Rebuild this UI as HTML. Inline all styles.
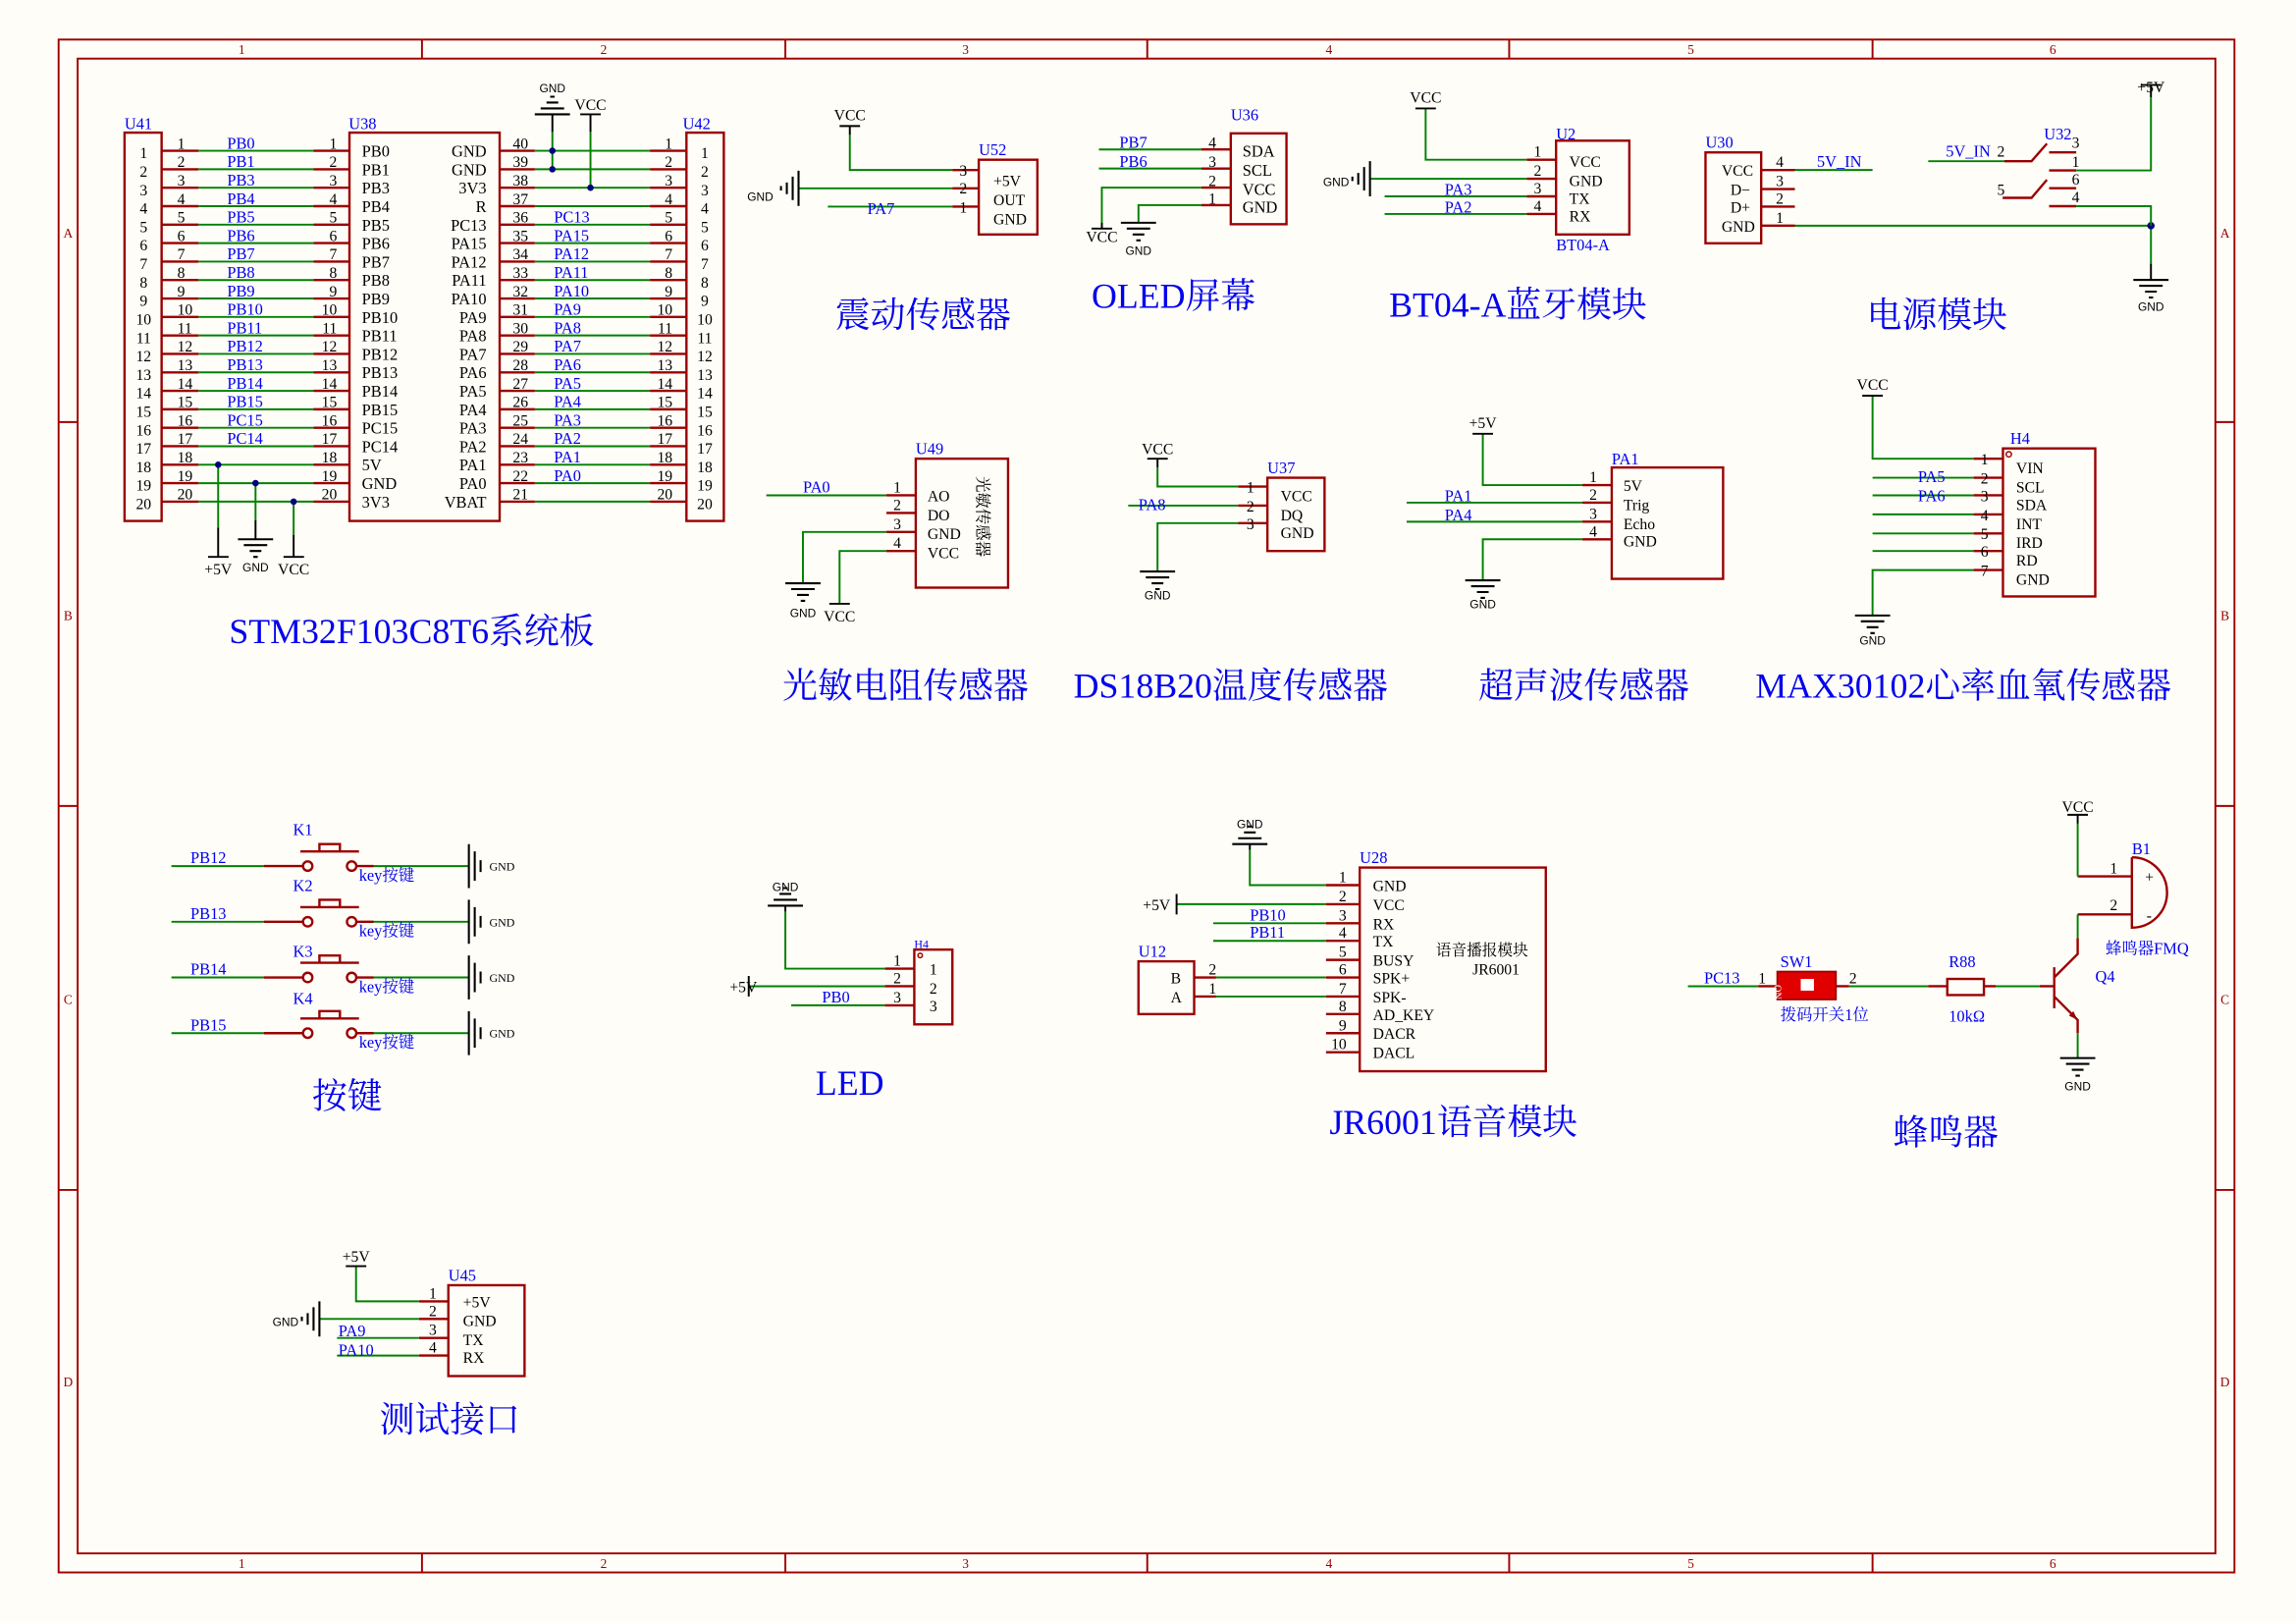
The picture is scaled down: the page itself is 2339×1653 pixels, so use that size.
<!DOCTYPE html>
<html><head><meta charset="utf-8"><style>
html,body{margin:0;padding:0;background:#fefdf8;}
svg{display:block;}
text{font-family:"Liberation Serif","Noto Serif CJK SC",serif;}
.r{stroke:#9a0000;stroke-width:1.6;fill:none;}
.g{stroke:#008000;stroke-width:1.3;fill:none;}
.k{stroke:#000;stroke-width:1.3;fill:none;}
.b{fill:#0000ee;font-size:11px;}
.n{fill:#000;font-size:10.5px;}
.s{fill:#000;font-size:11px;font-family:"Liberation Sans",sans-serif;}
.fr{fill:#9a0000;font-size:9px;font-family:"Liberation Sans",sans-serif;}
.T{fill:#0000ee;font-size:24px;text-anchor:middle;font-family:"Liberation Serif","Noto Serif CJK SC",serif;}
.sm{fill:#000;font-size:8px;font-family:"Liberation Sans",sans-serif;}
.e{text-anchor:end;}.m{text-anchor:middle;}
</style></head><body>
<svg width="2339" height="1653" viewBox="0 0 1567 1107.5" preserveAspectRatio="none" xmlns="http://www.w3.org/2000/svg">
<defs>
<g id="gd"><path d="M-12,0h24M-8,4h16M-4,8h8M-1.5,12h3" stroke="#000" stroke-width="1.4"/></g>
<g id="gu"><path d="M-12,0h24M-8,-4h16M-4,-8h8M-1.5,-12h3" stroke="#000" stroke-width="1.4"/></g>
<g id="gl"><path d="M0,-12v24M-4,-8v16M-8,-4v8M-12,-1.5v3" stroke="#000" stroke-width="1.4"/></g>
<g id="gr"><path d="M0,-15v30M4,-10v20M8,-4v8" stroke="#000" stroke-width="1.4"/></g>
</defs>
<rect x="0" y="0" width="1570" height="1110" fill="#fefdf8"/>
<!-- frame -->
<rect x="40" y="27" width="1485" height="1046" fill="none" stroke="#a00000" stroke-width="1.3"/>
<rect x="53" y="40" width="1459" height="1020" fill="none" stroke="#a00000" stroke-width="1.3"/>
<path d="M288,27v13M536,27v13M783,27v13M1030,27v13M1278,27v13M288,1060v13M536,1060v13M783,1060v13M1030,1060v13M1278,1060v13M40,288h13M40,550h13M40,812h13M1512,288h13M1512,550h13M1512,812h13" stroke="#a00000" stroke-width="1.3"/>
<g class="fr" text-anchor="middle">
<text x="165" y="37">1</text><text x="412" y="37">2</text><text x="659" y="37">3</text><text x="907" y="37">4</text><text x="1154" y="37">5</text><text x="1401" y="37">6</text>
<text x="165" y="1070">1</text><text x="412" y="1070">2</text><text x="659" y="1070">3</text><text x="907" y="1070">4</text><text x="1154" y="1070">5</text><text x="1401" y="1070">6</text>
<text x="46.5" y="162">A</text><text x="46.5" y="423">B</text><text x="46.5" y="685">C</text><text x="46.5" y="946">D</text>
<text x="1518.5" y="162">A</text><text x="1518.5" y="423">B</text><text x="1518.5" y="685">C</text><text x="1518.5" y="946">D</text>
</g>

<!-- ===== STM32 ===== -->
<rect x="85" y="90.5" width="25.3" height="265" class="r"/>
<rect x="238.5" y="90.5" width="102.5" height="265" class="r"/>
<rect x="468.5" y="90.5" width="25.5" height="265" class="r"/>
<text x="85" y="88" class="b">U41</text><text x="238" y="88" class="b">U38</text><text x="466" y="88" class="b">U42</text>
<g id="rows">
<path class="g" d="M135.5,102.9H214M135.5,115.5H214M135.5,128.1H214M135.5,140.7H214M135.5,153.3H214M135.5,165.9H214M135.5,178.5H214M135.5,191.1H214M135.5,203.7H214M135.5,216.3H214M135.5,228.9H214M135.5,241.5H214M135.5,254.1H214M135.5,266.7H214M135.5,279.3H214M135.5,291.9H214M135.5,304.5H214M135.5,317.1H214M135.5,329.7H214M135.5,342.3H214"/>
<path class="g" d="M365,102.9H443.6M365,115.5H443.6M365,128.1H443.6M365,140.7H443.6M365,153.3H443.6M365,165.9H443.6M365,178.5H443.6M365,191.1H443.6M365,203.7H443.6M365,216.3H443.6M365,228.9H443.6M365,241.5H443.6M365,254.1H443.6M365,266.7H443.6M365,279.3H443.6M365,291.9H443.6M365,304.5H443.6M365,317.1H443.6M365,329.7H443.6M365,342.3H443.6"/>
<path class="r" d="M110.3,102.9h25.2M214,102.9h24.5M341,102.9h24M443.6,102.9h24.9
M110.3,115.5h25.2M214,115.5h24.5M341,115.5h24M443.6,115.5h24.9
M110.3,128.1h25.2M214,128.1h24.5M341,128.1h24M443.6,128.1h24.9
M110.3,140.7h25.2M214,140.7h24.5M341,140.7h24M443.6,140.7h24.9
M110.3,153.3h25.2M214,153.3h24.5M341,153.3h24M443.6,153.3h24.9
M110.3,165.9h25.2M214,165.9h24.5M341,165.9h24M443.6,165.9h24.9
M110.3,178.5h25.2M214,178.5h24.5M341,178.5h24M443.6,178.5h24.9
M110.3,191.1h25.2M214,191.1h24.5M341,191.1h24M443.6,191.1h24.9
M110.3,203.7h25.2M214,203.7h24.5M341,203.7h24M443.6,203.7h24.9
M110.3,216.3h25.2M214,216.3h24.5M341,216.3h24M443.6,216.3h24.9
M110.3,228.9h25.2M214,228.9h24.5M341,228.9h24M443.6,228.9h24.9
M110.3,241.5h25.2M214,241.5h24.5M341,241.5h24M443.6,241.5h24.9
M110.3,254.1h25.2M214,254.1h24.5M341,254.1h24M443.6,254.1h24.9
M110.3,266.7h25.2M214,266.7h24.5M341,266.7h24M443.6,266.7h24.9
M110.3,279.3h25.2M214,279.3h24.5M341,279.3h24M443.6,279.3h24.9
M110.3,291.9h25.2M214,291.9h24.5M341,291.9h24M443.6,291.9h24.9
M110.3,304.5h25.2M214,304.5h24.5M341,304.5h24M443.6,304.5h24.9
M110.3,317.1h25.2M214,317.1h24.5M341,317.1h24M443.6,317.1h24.9
M110.3,329.7h25.2M214,329.7h24.5M341,329.7h24M443.6,329.7h24.9
M110.3,342.3h25.2M214,342.3h24.5M341,342.3h24M443.6,342.3h24.9"/>
</g>
<g class="n m">
<text x="98" y="108">1</text><text x="98" y="120.6">2</text><text x="98" y="133.2">3</text><text x="98" y="145.8">4</text><text x="98" y="158.4">5</text><text x="98" y="171">6</text><text x="98" y="183.6">7</text><text x="98" y="196.2">8</text><text x="98" y="208.8">9</text><text x="98" y="221.4">10</text><text x="98" y="234">11</text><text x="98" y="246.6">12</text><text x="98" y="259.2">13</text><text x="98" y="271.8">14</text><text x="98" y="284.4">15</text><text x="98" y="297">16</text><text x="98" y="309.6">17</text><text x="98" y="322.2">18</text><text x="98" y="334.8">19</text><text x="98" y="347.4">20</text>
<text x="481" y="108">1</text><text x="481" y="120.6">2</text><text x="481" y="133.2">3</text><text x="481" y="145.8">4</text><text x="481" y="158.4">5</text><text x="481" y="171">6</text><text x="481" y="183.6">7</text><text x="481" y="196.2">8</text><text x="481" y="208.8">9</text><text x="481" y="221.4">10</text><text x="481" y="234">11</text><text x="481" y="246.6">12</text><text x="481" y="259.2">13</text><text x="481" y="271.8">14</text><text x="481" y="284.4">15</text><text x="481" y="297">16</text><text x="481" y="309.6">17</text><text x="481" y="322.2">18</text><text x="481" y="334.8">19</text><text x="481" y="347.4">20</text>
</g>
<g class="n">
<text x="121" y="101.5">1</text><text x="121" y="114">2</text><text x="121" y="126.6">3</text><text x="121" y="139.2">4</text><text x="121" y="151.8">5</text><text x="121" y="164.4">6</text><text x="121" y="177">7</text><text x="121" y="189.6">8</text><text x="121" y="202.2">9</text><text x="121" y="214.8">10</text><text x="121" y="227.4">11</text><text x="121" y="240">12</text><text x="121" y="252.6">13</text><text x="121" y="265.2">14</text><text x="121" y="277.8">15</text><text x="121" y="290.4">16</text><text x="121" y="303">17</text><text x="121" y="315.6">18</text><text x="121" y="328.2">19</text><text x="121" y="340.8">20</text>
</g>
<g class="n e">
<text x="230" y="101.5">1</text><text x="230" y="114">2</text><text x="230" y="126.6">3</text><text x="230" y="139.2">4</text><text x="230" y="151.8">5</text><text x="230" y="164.4">6</text><text x="230" y="177">7</text><text x="230" y="189.6">8</text><text x="230" y="202.2">9</text><text x="230" y="214.8">10</text><text x="230" y="227.4">11</text><text x="230" y="240">12</text><text x="230" y="252.6">13</text><text x="230" y="265.2">14</text><text x="230" y="277.8">15</text><text x="230" y="290.4">16</text><text x="230" y="303">17</text><text x="230" y="315.6">18</text><text x="230" y="328.2">19</text><text x="230" y="340.8">20</text>
<text x="459" y="101.5">1</text><text x="459" y="114">2</text><text x="459" y="126.6">3</text><text x="459" y="139.2">4</text><text x="459" y="151.8">5</text><text x="459" y="164.4">6</text><text x="459" y="177">7</text><text x="459" y="189.6">8</text><text x="459" y="202.2">9</text><text x="459" y="214.8">10</text><text x="459" y="227.4">11</text><text x="459" y="240">12</text><text x="459" y="252.6">13</text><text x="459" y="265.2">14</text><text x="459" y="277.8">15</text><text x="459" y="290.4">16</text><text x="459" y="303">17</text><text x="459" y="315.6">18</text><text x="459" y="328.2">19</text><text x="459" y="340.8">20</text>
</g>
<g class="n">
<text x="350" y="101.5">40</text><text x="350" y="114">39</text><text x="350" y="126.6">38</text><text x="350" y="139.2">37</text><text x="350" y="151.8">36</text><text x="350" y="164.4">35</text><text x="350" y="177">34</text><text x="350" y="189.6">33</text><text x="350" y="202.2">32</text><text x="350" y="214.8">31</text><text x="350" y="227.4">30</text><text x="350" y="240">29</text><text x="350" y="252.6">28</text><text x="350" y="265.2">27</text><text x="350" y="277.8">26</text><text x="350" y="290.4">25</text><text x="350" y="303">24</text><text x="350" y="315.6">23</text><text x="350" y="328.2">22</text><text x="350" y="340.8">21</text>
</g>
<g class="b">
<text x="155" y="101.5">PB0</text><text x="155" y="114">PB1</text><text x="155" y="126.6">PB3</text><text x="155" y="139.2">PB4</text><text x="155" y="151.8">PB5</text><text x="155" y="164.4">PB6</text><text x="155" y="177">PB7</text><text x="155" y="189.6">PB8</text><text x="155" y="202.2">PB9</text><text x="155" y="214.8">PB10</text><text x="155" y="227.4">PB11</text><text x="155" y="240">PB12</text><text x="155" y="252.6">PB13</text><text x="155" y="265.2">PB14</text><text x="155" y="277.8">PB15</text><text x="155" y="290.4">PC15</text><text x="155" y="303">PC14</text>
<text x="378" y="151.8">PC13</text><text x="378" y="164.4">PA15</text><text x="378" y="177">PA12</text><text x="378" y="189.6">PA11</text><text x="378" y="202.2">PA10</text><text x="378" y="214.8">PA9</text><text x="378" y="227.4">PA8</text><text x="378" y="240">PA7</text><text x="378" y="252.6">PA6</text><text x="378" y="265.2">PA5</text><text x="378" y="277.8">PA4</text><text x="378" y="290.4">PA3</text><text x="378" y="303">PA2</text><text x="378" y="315.6">PA1</text><text x="378" y="328.2">PA0</text>
</g>
<g class="s">
<text x="247" y="106.9">PB0</text><text x="247" y="119.5">PB1</text><text x="247" y="132.1">PB3</text><text x="247" y="144.7">PB4</text><text x="247" y="157.3">PB5</text><text x="247" y="169.9">PB6</text><text x="247" y="182.5">PB7</text><text x="247" y="195.1">PB8</text><text x="247" y="207.7">PB9</text><text x="247" y="220.3">PB10</text><text x="247" y="232.9">PB11</text><text x="247" y="245.5">PB12</text><text x="247" y="258.1">PB13</text><text x="247" y="270.7">PB14</text><text x="247" y="283.3">PB15</text><text x="247" y="295.9">PC15</text><text x="247" y="308.5">PC14</text><text x="247" y="321.1">5V</text><text x="247" y="333.7">GND</text><text x="247" y="346.3">3V3</text>
</g>
<g class="s e">
<text x="332" y="106.9">GND</text><text x="332" y="119.5">GND</text><text x="332" y="132.1">3V3</text><text x="332" y="144.7">R</text><text x="332" y="157.3">PC13</text><text x="332" y="169.9">PA15</text><text x="332" y="182.5">PA12</text><text x="332" y="195.1">PA11</text><text x="332" y="207.7">PA10</text><text x="332" y="220.3">PA9</text><text x="332" y="232.9">PA8</text><text x="332" y="245.5">PA7</text><text x="332" y="258.1">PA6</text><text x="332" y="270.7">PA5</text><text x="332" y="283.3">PA4</text><text x="332" y="295.9">PA3</text><text x="332" y="308.5">PA2</text><text x="332" y="321.1">PA1</text><text x="332" y="333.7">PA0</text><text x="332" y="346.3">VBAT</text>
</g>
<path class="g" d="M377,90V115.5M403,90V128.1"/>
<path class="k" d="M377,78V90M403,78V90M396,78h14"/>
<use href="#gu" x="377" y="78"/>
<text x="377" y="63" class="sm m">GND</text><text x="403" y="75" class="n m">VCC</text>
<circle cx="377" cy="102.9" r="2.2" fill="#000080"/><circle cx="377" cy="115.5" r="2.2" fill="#000080"/><circle cx="403" cy="128.1" r="2.2" fill="#000080"/>
<path class="g" d="M148.9,317.1V360M174.4,329.7V355M200.4,342.3V365"/>
<path class="k" d="M148.9,360V380M174.4,355V368M200.4,365V380M142,380h14M193.5,380h14"/>
<use href="#gd" x="174.4" y="368"/>
<circle cx="148.9" cy="317.1" r="2.2" fill="#000080"/><circle cx="174.4" cy="329.7" r="2.2" fill="#000080"/><circle cx="200.4" cy="342.3" r="2.2" fill="#000080"/>
<text x="148.9" y="392" class="n m">+5V</text><text x="174.4" y="390" class="sm m">GND</text><text x="200.4" y="392" class="n m">VCC</text>
<text x="281" y="439" class="T">STM32F103C8T6系统板</text>

<!-- ===== U52 vibration ===== -->
<rect x="668" y="109" width="40" height="51" class="r"/>
<text x="668" y="106" class="b">U52</text>
<path class="g" d="M580,92V116H650M545,128.5H650M565,141H650"/>
<path class="k" d="M580,86V92M573,86h14"/>
<path class="r" d="M650,116h18M650,128.5h18M650,141h18"/>
<use href="#gl" x="545" y="128.5"/>
<text x="510" y="137" class="sm">GND</text>
<text x="580" y="82" class="n m">VCC</text>
<text x="592" y="146" class="b">PA7</text>
<g class="n e"><text x="660" y="120">3</text><text x="660" y="132">2</text><text x="660" y="145">1</text></g>
<g class="n"><text x="678" y="127">+5V</text><text x="678" y="140">OUT</text><text x="678" y="153">GND</text></g>
<text x="630" y="223" class="T">震动传感器</text>

<!-- ===== OLED U36 ===== -->
<rect x="840" y="91" width="38" height="62" class="r"/>
<text x="840" y="82" class="b">U36</text>
<path class="g" d="M750,102H820M750,115H820M752,156V128H820M777,152V140H820"/>
<path class="r" d="M820,102h20M820,115h20M820,128h20M820,140h20"/>
<path class="k" d="M745,156h14M752,152V156"/>
<use href="#gd" x="777" y="152"/>
<text x="752" y="165" class="n m">VCC</text><text x="777" y="174" class="sm m">GND</text>
<text x="764" y="101" class="b">PB7</text><text x="764" y="114" class="b">PB6</text>
<g class="n e"><text x="830" y="101">4</text><text x="830" y="114">3</text><text x="830" y="127">2</text><text x="830" y="139">1</text></g>
<g class="s"><text x="848" y="107">SDA</text><text x="848" y="120">SCL</text><text x="848" y="133">VCC</text><text x="848" y="145">GND</text></g>
<text x="801" y="210" class="T">OLED屏幕</text>

<!-- ===== BT04-A U2 ===== -->
<rect x="1062" y="96" width="50" height="64" class="r"/>
<text x="1062" y="95" class="b">U2</text>
<path class="g" d="M973,74V109H1042M935,122H1042M945,134H1042M945,146H1042"/>
<path class="r" d="M1042,109h20M1042,122h20M1042,134h20M1042,146h20"/>
<path class="k" d="M966,74h14"/>
<use href="#gl" x="935" y="122"/>
<text x="903" y="127" class="sm">GND</text>
<text x="973" y="70" class="n m">VCC</text>
<text x="986" y="133" class="b">PA3</text><text x="986" y="145" class="b">PA2</text>
<g class="n e"><text x="1052" y="107">1</text><text x="1052" y="120">2</text><text x="1052" y="132">3</text><text x="1052" y="144">4</text></g>
<g class="n"><text x="1071" y="114">VCC</text><text x="1071" y="127">GND</text><text x="1071" y="139">TX</text><text x="1071" y="151">RX</text></g>
<text x="1062" y="171" class="b">BT04-A</text>
<text x="1036" y="216" class="T">BT04-A蓝牙模块</text>

<!-- ===== Power ===== -->
<rect x="1164" y="104" width="38" height="62" class="r"/>
<text x="1164" y="101" class="b">U30</text>
<path class="r" d="M1202,116h23M1202,129h23M1202,141h23M1202,154h23"/>
<path class="g" d="M1225,116H1278M1225,154H1468V180"/>
<circle cx="1468" cy="154" r="2.5" fill="#000080"/>
<g class="n"><text x="1175" y="120">VCC</text><text x="1181" y="133">D−</text><text x="1181" y="145">D+</text><text x="1175" y="158">GND</text></g>
<g class="n"><text x="1212" y="114">4</text><text x="1212" y="127">3</text><text x="1212" y="139">2</text><text x="1212" y="152">1</text></g>
<text x="1240" y="114" class="b">5V_IN</text>
<path class="g" d="M1316,110H1368"/>
<path class="r" d="M1368,110H1386.5L1397,98M1366.8,135H1386.5L1397,122.7M1398.5,104H1417M1398.5,116.3H1417M1398.5,128.4H1417M1398.5,140.7H1417"/>
<path class="g" d="M1417,116.3H1468V66.4M1417,140.7H1468V154"/>
<path class="k" d="M1468,66.4V58M1461,58h14M1468,180V191"/>
<use href="#gd" x="1468" y="191"/>
<text x="1468" y="63" class="n m">+5V</text><text x="1468" y="212" class="sm m">GND</text>
<text x="1328" y="107" class="b">5V_IN</text>
<text x="1395" y="95" class="b">U32</text>
<g class="n"><text x="1363" y="107">2</text><text x="1363" y="133">5</text><text x="1414" y="101">3</text><text x="1414" y="114">1</text><text x="1414" y="126">6</text><text x="1414" y="138">4</text></g>
<text x="1322" y="223" class="T">电源模块</text>

<!-- ===== U49 light ===== -->
<rect x="625" y="313" width="63" height="88" class="r"/>
<text x="625" y="310" class="b">U49</text>
<path class="g" d="M523,338H605M605,363H548V398M605,376H573V412"/>
<path class="r" d="M605,338h20M605,350h20M605,363h20M605,376h20"/>
<path class="k" d="M566,412h14"/>
<use href="#gd" x="548" y="398"/>
<text x="548" y="421" class="sm m">GND</text><text x="573" y="424" class="n m">VCC</text>
<text x="548" y="336" class="b">PA0</text>
<g class="n e"><text x="615" y="336">1</text><text x="615" y="348">2</text><text x="615" y="361">3</text><text x="615" y="374">4</text></g>
<g class="n"><text x="633" y="342">AO</text><text x="633" y="355">DO</text><text x="633" y="368">GND</text><text x="633" y="381">VCC</text></g>
<text x="667" y="325" transform="rotate(90 667 325)" style="font-size:11px;fill:#000">光敏传感器</text>
<text x="618" y="476" class="T">光敏电阻传感器</text>

<!-- ===== U37 DS18B20 ===== -->
<rect x="865" y="326" width="39" height="50" class="r"/>
<text x="865" y="323" class="b">U37</text>
<path class="g" d="M790,319V332H845M770,345H845M845,357H790V390"/>
<path class="r" d="M845,332h20M845,345h20M845,357h20"/>
<path class="k" d="M790,313V319M783,313h14"/>
<use href="#gd" x="790" y="390"/>
<text x="790" y="310" class="n m">VCC</text><text x="790" y="409" class="sm m">GND</text>
<text x="777" y="348" class="b">PA8</text>
<g class="n e"><text x="856" y="336">1</text><text x="856" y="349">2</text><text x="856" y="361">3</text></g>
<g class="n"><text x="874" y="342">VCC</text><text x="874" y="355">DQ</text><text x="874" y="367">GND</text></g>
<text x="840" y="476" class="T">DS18B20温度传感器</text>

<!-- ===== Ultrasonic ===== -->
<rect x="1100" y="319" width="76" height="76" class="r"/>
<text x="1100" y="317" class="b">PA1</text>
<path class="g" d="M1012,296V331H1080M960,343H1080M960,356H1080M1080,368H1012V396"/>
<path class="r" d="M1080,331h20M1080,343h20M1080,356h20M1080,368h20"/>
<path class="k" d="M1005,296h14"/>
<use href="#gd" x="1012" y="396"/>
<text x="1012" y="292" class="n m">+5V</text><text x="1012" y="415" class="sm m">GND</text>
<text x="986" y="342" class="b">PA1</text><text x="986" y="355" class="b">PA4</text>
<g class="n e"><text x="1090" y="329">1</text><text x="1090" y="341">2</text><text x="1090" y="354">3</text><text x="1090" y="366">4</text></g>
<g class="n"><text x="1108" y="335">5V</text><text x="1108" y="348">Trig</text><text x="1108" y="361">Echo</text><text x="1108" y="373">GND</text></g>
<text x="1081" y="476" class="T">超声波传感器</text>

<!-- ===== MAX30102 ===== -->
<rect x="1367" y="306" width="63" height="101" class="r"/>
<circle cx="1371" cy="310" r="1.8" fill="none" stroke="#9a0000" stroke-width="1"/>
<text x="1372" y="303" class="b">H4</text>
<path class="g" d="M1278,270V313H1347M1278,326H1347M1278,338H1347M1278,351H1347M1278,364H1347M1278,376H1347M1347,389H1278V420"/>
<path class="r" d="M1347,313h20M1347,326h20M1347,338h20M1347,351h20M1347,364h20M1347,376h20M1347,389h20"/>
<path class="k" d="M1271,270h14"/>
<use href="#gd" x="1278" y="420"/>
<text x="1278" y="266" class="n m">VCC</text><text x="1278" y="440" class="sm m">GND</text>
<text x="1309" y="329" class="b">PA5</text><text x="1309" y="342" class="b">PA6</text>
<g class="n e"><text x="1357" y="317">1</text><text x="1357" y="330">2</text><text x="1357" y="342">3</text><text x="1357" y="355">4</text><text x="1357" y="368">5</text><text x="1357" y="380">6</text><text x="1357" y="393">7</text></g>
<g class="n"><text x="1376" y="323">VIN</text><text x="1376" y="336">SCL</text><text x="1376" y="348">SDA</text><text x="1376" y="361">INT</text><text x="1376" y="374">IRD</text><text x="1376" y="386">RD</text><text x="1376" y="399">GND</text></g>
<text x="1340" y="476" class="T">MAX30102心率血氧传感器</text>

<!-- ===== Keys ===== -->
<g id="key1">
<path class="g" d="M117,591H180M250,591H320"/>
<path class="r" d="M180,591H207M243,591H255M205,581h40M218,581v-5h14v5"/>
<circle cx="210" cy="591" r="3.2" class="r"/><circle cx="240" cy="591" r="3.2" class="r"/>
<use href="#gr" x="320" y="591"/>
</g>
<use href="#key1" y="38"/><use href="#key1" y="76"/><use href="#key1" y="114"/>
<g class="sm"><text x="334" y="594">GND</text><text x="334" y="632">GND</text><text x="334" y="670">GND</text><text x="334" y="708">GND</text></g>
<g class="b"><text x="130" y="589">PB12</text><text x="130" y="627">PB13</text><text x="130" y="665">PB14</text><text x="130" y="703">PB15</text>
<text x="200" y="570">K1</text><text x="200" y="608">K2</text><text x="200" y="653">K3</text><text x="200" y="685">K4</text>
<text x="245" y="601">key按键</text><text x="245" y="639">key按键</text><text x="245" y="677">key按键</text><text x="245" y="715">key按键</text></g>
<text x="237" y="756" class="T">按键</text>

<!-- ===== LED ===== -->
<rect x="624" y="648" width="26" height="51" class="r"/>
<circle cx="628" cy="652" r="1.5" fill="none" stroke="#9a0000" stroke-width="1"/>
<text x="624" y="647" style="font-size:8px;fill:#0000ee">H4</text>
<path class="g" d="M536,622V661H604M511,673H604M540,686H604"/>
<path class="r" d="M604,661h20M604,673h20M604,686h20"/>
<path class="k" d="M536,618V622M511,666V680"/>
<use href="#gu" x="536" y="618"/>
<text x="536" y="608" class="sm m">GND</text><text x="498" y="677" class="n">+5V</text>
<text x="561" y="684" class="b">PB0</text>
<g class="n e"><text x="615" y="659">1</text><text x="615" y="671">2</text><text x="615" y="684">3</text></g>
<g class="n m"><text x="637" y="665">1</text><text x="637" y="678">2</text><text x="637" y="690">3</text></g>
<text x="580" y="747" class="T">LED</text>

<!-- ===== JR6001 ===== -->
<rect x="928" y="592" width="127" height="139" class="r"/>
<text x="928" y="589" class="b">U28</text>
<path class="g" d="M853,580V604H905M803,617H905M828,630H905M828,642H905M830,667H905M830,680H905"/>
<path class="r" d="M905,604h23M905,617h23M905,630h23M905,642h23M905,655h23M905,667h23M905,680h23M905,692h23M905,705h23M905,718h23M815,667h15M815,680h15"/>
<path class="k" d="M853,576V580M803,610V624"/>
<use href="#gu" x="853" y="576"/>
<text x="853" y="565" class="sm m">GND</text><text x="780" y="621" class="n">+5V</text>
<text x="853" y="628" class="b">PB10</text><text x="853" y="640" class="b">PB11</text>
<rect x="777" y="656" width="38" height="36" class="r"/>
<text x="777" y="653" class="b">U12</text>
<g class="n"><text x="799" y="671">B</text><text x="799" y="684">A</text><text x="825" y="665">2</text><text x="825" y="678">1</text></g>
<g class="n e"><text x="919" y="602">1</text><text x="919" y="615">2</text><text x="919" y="628">3</text><text x="919" y="640">4</text><text x="919" y="653">5</text><text x="919" y="665">6</text><text x="919" y="678">7</text><text x="919" y="690">8</text><text x="919" y="703">9</text><text x="919" y="716">10</text></g>
<g class="n"><text x="937" y="608">GND</text><text x="937" y="621">VCC</text><text x="937" y="634">RX</text><text x="937" y="646">TX</text><text x="937" y="659">BUSY</text><text x="937" y="671">SPK+</text><text x="937" y="684">SPK-</text><text x="937" y="696">AD_KEY</text><text x="937" y="709">DACR</text><text x="937" y="722">DACL</text></g>
<text x="980" y="652" class="n">语音播报模块</text><text x="1005" y="665" class="n">JR6001</text>
<text x="992" y="774" class="T">JR6001语音模块</text>

<!-- ===== Buzzer ===== -->
<path class="g" d="M1152,673H1200M1262,673H1316M1362,673H1392"/>
<path class="r" d="M1200,673h13M1253,673h9M1316,673h13M1354,673h8"/>
<rect x="1213" y="663" width="40" height="19" fill="#e00000" stroke="#900" stroke-width="1.2"/>
<rect x="1229" y="668" width="9" height="8" fill="#fff"/>
<text x="1219" y="680" transform="rotate(90 1219 672)" style="font-size:7px;fill:#fff">ON</text>
<rect x="1329" y="668" width="25" height="11" class="r"/>
<text x="1215" y="660" class="b">SW1</text><text x="1330" y="660" class="b">R88</text><text x="1330" y="697" class="b">10kΩ</text>
<text x="1163" y="671" class="b">PC13</text>
<text x="1200" y="671" class="n">1</text><text x="1262" y="671" class="n">2</text>
<text x="1215" y="696" class="b">拨码开关1位</text>
<path class="r" d="M1392,673h10M1402,660V688M1402,667L1418,651V640M1402,680L1418,696V705M1418,598h37M1418,624h37"/>
<path d="M1412,693l6,3l-3,-6z" fill="#9a0000"/>
<path class="g" d="M1418,562V598M1418,640V624M1418,705V722"/>
<path class="k" d="M1418,556V562M1411,556h14"/>
<use href="#gd" x="1418" y="722"/>
<path class="r" d="M1455,585V633A24,24 0 0 0 1455,585"/>
<text x="1418" y="554" class="n m">VCC</text><text x="1418" y="744" class="sm m">GND</text>
<text x="1455" y="583" class="b">B1</text><text x="1437" y="651" class="b">蜂鸣器FMQ</text><text x="1430" y="670" class="b">Q4</text>
<text x="1440" y="596" class="n">1</text><text x="1440" y="621" class="n">2</text>
<text x="1464" y="602" class="n">+</text><text x="1465" y="628" class="n">-</text>
<text x="1328" y="781" class="T">蜂鸣器</text>

<!-- ===== Test port U45 ===== -->
<rect x="306" y="877" width="52" height="62" class="r"/>
<text x="306" y="874" class="b">U45</text>
<path class="g" d="M243,864V888H286M218,900H286M230,913H286M230,925H286"/>
<path class="r" d="M286,888h20M286,900h20M286,913h20M286,925h20"/>
<path class="k" d="M236,864h14"/>
<use href="#gl" x="218" y="900"/>
<text x="186" y="905" class="sm">GND</text><text x="243" y="861" class="n m">+5V</text>
<text x="231" y="912" class="b">PA9</text><text x="231" y="925" class="b">PA10</text>
<g class="n e"><text x="298" y="886">1</text><text x="298" y="898">2</text><text x="298" y="911">3</text><text x="298" y="923">4</text></g>
<g class="n"><text x="316" y="892">+5V</text><text x="316" y="905">GND</text><text x="316" y="918">TX</text><text x="316" y="930">RX</text></g>
<text x="307" y="977" class="T">测试接口</text>
</svg>
</body></html>
